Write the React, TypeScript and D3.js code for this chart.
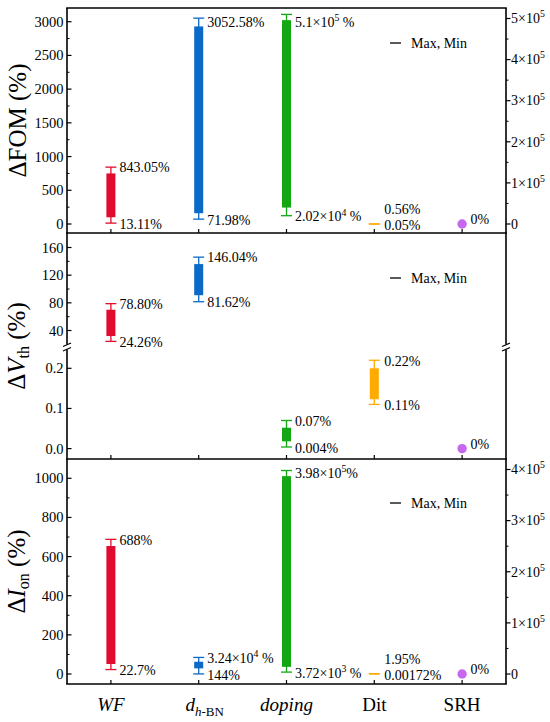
import React from "react";
import * as d3 from "d3";

// ---------- data ----------
const categories = ["WF", "dhBN", "doping", "Dit", "SRH"];
const colors = ["#E10B2E", "#0B69C7", "#13A813", "#FFAA00", "#C766EE"];

// ΔFOM panel (axis: L = left, R = right)
const fomAxis = ["L", "L", "R", "L", "L"];
const fomMax = [843.05, 3052.58, 5.1e5, 0.56, 0];
const fomMin = [13.11, 71.98, 2.02e4, 0.05, 0];
const fomBoxHi = [750, 2930, 4.96e5, 0.5, 0];
const fomBoxLo = [100, 160, 4.0e4, 0.1, 0];
const fomMaxLabels = ["843.05%", "3052.58%", "5.1×10^5 %", "0.56%", "0%"];
const fomMinLabels = ["13.11%", "71.98%", "2.02×10^4 %", "0.05%", ""];
const fomLeftTicks = [0, 500, 1000, 1500, 2000, 2500, 3000];
const fomRightTicks = [0, 1e5, 2e5, 3e5, 4e5, 5e5];

// ΔVth panel (section: U = upper part of broken axis, D = lower part)
const vthSection = ["U", "U", "D", "D", "D"];
const vthMax = [78.8, 146.04, 0.07, 0.22, 0];
const vthMin = [24.26, 81.62, 0.004, 0.11, 0];
const vthBoxHi = [70, 136, 0.052, 0.2, 0];
const vthBoxLo = [32, 91, 0.018, 0.123, 0];
const vthMaxLabels = ["78.80%", "146.04%", "0.07%", "0.22%", "0%"];
const vthMinLabels = ["24.26%", "81.62%", "0.004%", "0.11%", ""];
const vthUpperTicks = [40, 80, 120, 160];
const vthLowerTicks = [0, 0.1, 0.2];
const vthLowerTickLabels = ["0.0", "0.1", "0.2"];

// ΔIon panel
const ionAxis = ["L", "R", "R", "L", "L"];
const ionMax = [688, 3.24e4, 3.98e5, 1.95, 0];
const ionMin = [22.7, 144, 3.72e3, 0.00172, 0];
const ionBoxHi = [654, 2.4e4, 3.87e5, 1.5, 0];
const ionBoxLo = [51, 1.1e4, 1.4e4, 0.5, 0];
const ionMaxLabels = ["688%", "3.24×10^4 %", "3.98×10^5%", "1.95%", "0%"];
const ionMinLabels = ["22.7%", "144%", "3.72×10^3 %", "0.00172%", ""];
const ionLeftTicks = [0, 200, 400, 600, 800, 1000];
const ionRightTicks = [0, 1e5, 2e5, 3e5, 4e5];

const legendText = "Max, Min";

// ---------- layout ----------
const W = 550;
const H = 722;
const X0 = 67;
const X1 = 506;
const P = [
  { top: 8, bottom: 233 },
  { top: 233, bottom: 459 },
  { top: 459, bottom: 684 },
];
const FONT = "'Liberation Serif', 'Times New Roman', Times, serif";
const BREAK_Y = 347;

const x = d3.scalePoint<string>().domain(categories).range([X0, X1]).padding(0.5);

const fomL = d3.scaleLinear().domain([0, 3000]).range([224, 21.7]);
const fomR = d3.scaleLinear().domain([0, 5e5]).range([224, 18.5]);
const vthU = d3.scaleLinear().domain([40, 160]).range([330.5, 247.5]);
const vthD = d3.scaleLinear().domain([0, 0.2]).range([448.6, 368.3]);
const ionL = d3.scaleLinear().domain([0, 1000]).range([674, 478.3]);
const ionR = d3.scaleLinear().domain([0, 4e5]).range([674, 469.5]);

// text with ^N superscripts
function Rich({ s, x, y, size = 14, anchor = "start" }: any) {
  const parts = s.split(/\^(\d+)/);
  const out: any[] = [];
  parts.forEach((p: string, i: number) => {
    if (i % 2 === 1) {
      out.push(
        <tspan key={i} fontSize={size * 0.7} dy={-size * 0.42}>
          {p}
        </tspan>
      );
    } else if (p.length) {
      out.push(
        i > 0 ? (
          <tspan key={i} dy={size * 0.42}>
            {p}
          </tspan>
        ) : (
          <tspan key={i}>{p}</tspan>
        )
      );
    }
  });
  return (
    <text x={x} y={y + size * 0.34} fontSize={size} textAnchor={anchor} fill="#000">
      {out}
    </text>
  );
}

function rightLabel(v: number) {
  if (v === 0) return "0";
  return `${v / 1e5}×10^5`;
}

function Series({ i, yMax, yMin, yHi, yLo, maxLabel, minLabel, top }: any) {
  const cx = x(categories[i]) as number;
  const c = colors[i];
  const cat = categories[i];
  if (cat === "SRH") {
    return (
      <g>
        <circle cx={cx} cy={yMax} r={4.7} fill={c} />
        <Rich s={maxLabel} x={cx + 8.5} y={yMax - 4.5} />
      </g>
    );
  }
  const lx = cx + (cat === "Dit" ? 10 : 8.5);
  let maxLy = Math.max(yMax, top + 14);
  if (minLabel) maxLy = Math.min(maxLy, yMin - 15);
  return (
    <g>
      <line x1={cx} x2={cx} y1={yMax} y2={yMin} stroke={c} strokeWidth={1.3} />
      <line x1={cx - 5.5} x2={cx + 5.5} y1={yMax} y2={yMax} stroke={c} strokeWidth={1.3} />
      <line x1={cx - 5.5} x2={cx + 5.5} y1={yMin} y2={yMin} stroke={c} strokeWidth={1.3} />
      {yLo - yHi > 0.5 && (
        <rect x={cx - 4.5} width={9} y={yHi} height={yLo - yHi} fill={c} />
      )}
      <Rich s={maxLabel} x={lx} y={maxLy + 0.5} />
      {minLabel && <Rich s={minLabel} x={lx} y={yMin + 1} />}
    </g>
  );
}

function XTicks({ bottom }: any) {
  return (
    <g>
      {categories.map((c) => (
        <line
          key={c}
          x1={x(c)}
          x2={x(c)}
          y1={bottom}
          y2={bottom - 4}
          stroke="#000"
          strokeWidth={1.2}
        />
      ))}
    </g>
  );
}

function LeftTicks({ scale, ticks, labels, minor, yMinLimit, yMaxLimit }: any) {
  return (
    <g>
      {minor
        .filter((v: number) => {
          const y = scale(v);
          return y > yMinLimit && y < yMaxLimit;
        })
        .map((v: number) => (
          <line key={"m" + v} x1={X0} x2={X0 + 2.5} y1={scale(v)} y2={scale(v)} stroke="#000" strokeWidth={1} />
        ))}
      {ticks.map((v: number, k: number) => (
        <g key={v}>
          <line x1={X0} x2={X0 + 4.5} y1={scale(v)} y2={scale(v)} stroke="#000" strokeWidth={1.2} />
          <text x={X0 - 3.5} y={scale(v) + 5} fontSize={14.5} textAnchor="end">
            {labels ? labels[k] : String(v)}
          </text>
        </g>
      ))}
    </g>
  );
}

function RightTicks({ scale, ticks, minor }: any) {
  return (
    <g>
      {minor.map((v: number) => (
        <line key={"m" + v} x1={X1} x2={X1 + 2.5} y1={scale(v)} y2={scale(v)} stroke="#000" strokeWidth={1} />
      ))}
      {ticks.map((v: number) => (
        <g key={v}>
          <line x1={X1} x2={X1 + 4.5} y1={scale(v)} y2={scale(v)} stroke="#000" strokeWidth={1.2} />
          <Rich s={rightLabel(v)} x={X1 + 5} y={scale(v)} size={14} />
        </g>
      ))}
    </g>
  );
}

function Legend({ y }: any) {
  return (
    <g>
      <line x1={390} x2={401} y1={y} y2={y} stroke="#000" strokeWidth={1.3} />
      <text x={411} y={y + 5} fontSize={14}>
        {legendText}
      </text>
    </g>
  );
}

function BreakMark({ bx }: any) {
  return (
    <g>
      <rect x={bx - 5} y={BREAK_Y - 2.5} width={10} height={5} fill="#fff" />
      <line x1={bx - 4} x2={bx + 4} y1={BREAK_Y - 0.5} y2={BREAK_Y - 4} stroke="#000" strokeWidth={1.2} />
      <line x1={bx - 4} x2={bx + 4} y1={BREAK_Y + 4} y2={BREAK_Y + 0.5} stroke="#000" strokeWidth={1.2} />
    </g>
  );
}

export default function App() {
  const fomMinorL = d3.range(250, 3200, 500);
  const fomMinorR = d3.range(5e4, 5e5, 1e5);
  const vthMinorU = [60, 100, 140];
  const ionMinorL = d3.range(100, 1100, 200);
  const ionMinorR = d3.range(5e4, 4e5, 1e5);

  return (
    <svg
      width={W}
      height={H}
      viewBox={`0 0 ${W} ${H}`}
      style={{ position: "absolute", left: 0, top: 0, background: "#fff" }}
      fontFamily={FONT}
    >
      <rect width={W} height={H} fill="#fff" />

      {/* ---------- top panel ---------- */}
      {categories.map((c, i) => {
        const s = fomAxis[i] === "R" ? fomR : fomL;
        return (
          <Series
            key={c}
            i={i}
            yMax={s(fomMax[i])}
            yMin={s(fomMin[i])}
            yHi={s(fomBoxHi[i])}
            yLo={s(fomBoxLo[i])}
            maxLabel={fomMaxLabels[i]}
            minLabel={fomMinLabels[i]}
            top={P[0].top}
          />
        );
      })}
      <LeftTicks scale={fomL} ticks={fomLeftTicks} minor={fomMinorL} yMinLimit={P[0].top} yMaxLimit={P[0].bottom} />
      <RightTicks scale={fomR} ticks={fomRightTicks} minor={fomMinorR} />
      <XTicks bottom={P[0].bottom} />
      <Legend y={43} />

      {/* ---------- middle panel ---------- */}
      {categories.map((c, i) => {
        const s = vthSection[i] === "U" ? vthU : vthD;
        return (
          <Series
            key={c}
            i={i}
            yMax={s(vthMax[i])}
            yMin={s(vthMin[i])}
            yHi={s(vthBoxHi[i])}
            yLo={s(vthBoxLo[i])}
            maxLabel={vthMaxLabels[i]}
            minLabel={vthMinLabels[i]}
            top={P[1].top}
          />
        );
      })}
      <LeftTicks scale={vthU} ticks={vthUpperTicks} minor={vthMinorU} yMinLimit={P[1].top} yMaxLimit={BREAK_Y} />
      <LeftTicks scale={vthD} ticks={vthLowerTicks} labels={vthLowerTickLabels} minor={[]} yMinLimit={BREAK_Y} yMaxLimit={P[1].bottom} />
      <XTicks bottom={P[1].bottom} />
      <Legend y={278} />

      {/* ---------- bottom panel ---------- */}
      {categories.map((c, i) => {
        const s = ionAxis[i] === "R" ? ionR : ionL;
        return (
          <Series
            key={c}
            i={i}
            yMax={s(ionMax[i])}
            yMin={s(ionMin[i])}
            yHi={s(ionBoxHi[i])}
            yLo={s(ionBoxLo[i])}
            maxLabel={ionMaxLabels[i]}
            minLabel={ionMinLabels[i]}
            top={P[2].top}
          />
        );
      })}
      <LeftTicks scale={ionL} ticks={ionLeftTicks} minor={ionMinorL} yMinLimit={P[2].top} yMaxLimit={P[2].bottom} />
      <RightTicks scale={ionR} ticks={ionRightTicks} minor={ionMinorR} />
      <XTicks bottom={P[2].bottom} />
      <Legend y={503} />

      {/* ---------- frames ---------- */}
      <g stroke="#000" strokeWidth={1.6} fill="none">
        <line x1={X0 - 0.8} x2={X1 + 0.8} y1={P[0].top} y2={P[0].top} />
        <line x1={X0 - 0.8} x2={X1 + 0.8} y1={P[0].bottom} y2={P[0].bottom} />
        <line x1={X0 - 0.8} x2={X1 + 0.8} y1={P[1].bottom} y2={P[1].bottom} />
        <line x1={X0 - 0.8} x2={X1 + 0.8} y1={P[2].bottom} y2={P[2].bottom} />
        <line x1={X0} x2={X0} y1={P[0].top} y2={P[2].bottom} />
        <line x1={X1} x2={X1} y1={P[0].top} y2={P[2].bottom} />
      </g>
      <BreakMark bx={X0} />
      <BreakMark bx={X1} />

      {/* ---------- axis titles ---------- */}
      <text transform={`translate(25.5, ${(P[0].top + P[0].bottom) / 2}) rotate(-90)`} fontSize={25} textAnchor="middle">
        ΔFOM (%)
      </text>
      <text transform={`translate(25, ${(P[1].top + P[1].bottom) / 2}) rotate(-90)`} fontSize={25} textAnchor="middle">
        Δ<tspan fontStyle="italic">V</tspan>
        <tspan fontSize={16} dy={4}>th</tspan>
        <tspan dy={-4}> (%)</tspan>
      </text>
      <text transform={`translate(25, ${(P[2].top + P[2].bottom) / 2}) rotate(-90)`} fontSize={25} textAnchor="middle">
        Δ<tspan fontStyle="italic">I</tspan>
        <tspan fontSize={16} dy={4}>on</tspan>
        <tspan dy={-4}> (%)</tspan>
      </text>

      {/* ---------- x labels ---------- */}
      <g fontSize={19}>
        <text x={x("WF")} y={711} textAnchor="middle" fontStyle="italic">WF</text>
        <text x={(x("dhBN") as number) + 6} y={711} textAnchor="middle">
          <tspan fontStyle="italic">d</tspan>
          <tspan fontSize={13} dy={5} fontStyle="italic">h</tspan>
          <tspan fontSize={13}>-BN</tspan>
        </text>
        <text x={x("doping")} y={711} textAnchor="middle" fontStyle="italic">doping</text>
        <text x={x("Dit")} y={711} textAnchor="middle">Dit</text>
        <text x={x("SRH")} y={711} textAnchor="middle">SRH</text>
      </g>
    </svg>
  );
}
